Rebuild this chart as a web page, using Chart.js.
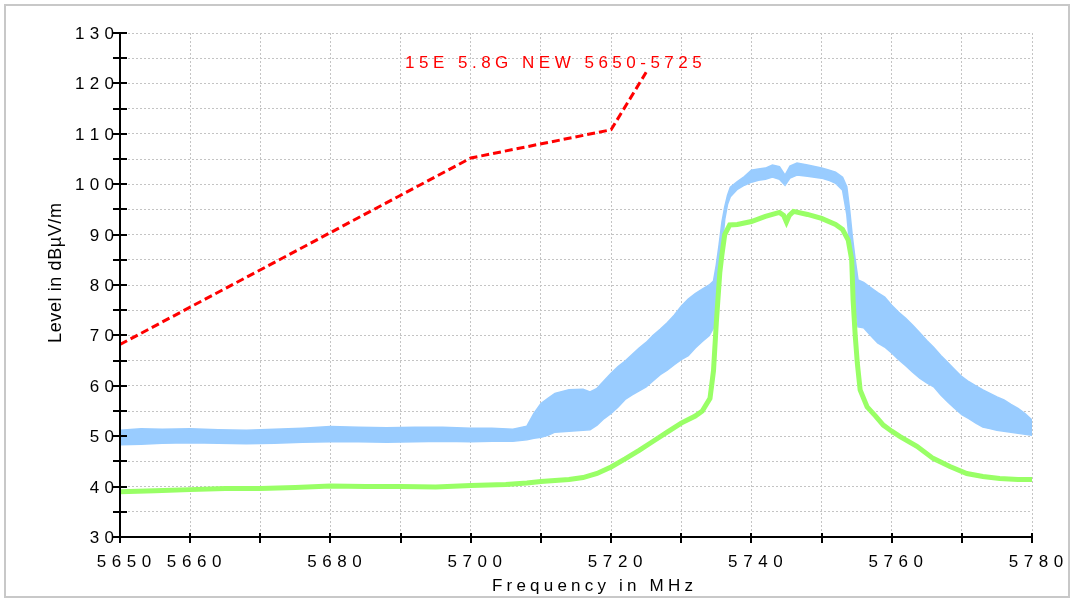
<!DOCTYPE html>
<html>
<head>
<meta charset="utf-8">
<script src="https://cdn.jsdelivr.net/npm/chart.js@4.4.0/dist/chart.umd.min.js"></script>
<style>
  body { margin: 0; background: #fff; }
  #wrap { width: 1074px; height: 599px; position: relative; }
</style>
</head>
<body>
<div id="wrap"><canvas id="emc" width="1074" height="599"></canvas></div>
<script>
// Frequenzraster (MHz) und Pegel (dBµV/m)
var blueFreq = [5650, 5653, 5656, 5660, 5664, 5668, 5672, 5676, 5680, 5684, 5688, 5692, 5696, 5700, 5703, 5706,
  5708, 5709, 5710, 5711, 5712, 5714, 5716, 5717, 5718, 5719, 5720, 5721, 5722, 5723, 5724, 5725, 5726, 5727,
  5728, 5729, 5730, 5731, 5732, 5733, 5734, 5734.6, 5735, 5735.4, 5735.8, 5736.2, 5736.6, 5737, 5738, 5739,
  5740, 5741, 5742, 5743, 5744, 5744.8, 5745.5, 5746.5, 5748, 5750, 5751, 5752, 5753, 5753.6, 5754, 5754.4,
  5754.8, 5755.2, 5756, 5757, 5758, 5759, 5760, 5761, 5762, 5763, 5764, 5765, 5766, 5767, 5768, 5769, 5770,
  5771, 5772, 5773, 5774, 5775, 5776, 5777, 5778, 5779, 5780];
var blueHigh = [51.2, 51.5, 51.4, 51.5, 51.3, 51.2, 51.4, 51.6, 51.9, 51.8, 51.7, 51.8, 51.8, 51.6, 51.6, 51.4,
  52.0, 54.5, 56.5, 57.5, 58.5, 59.2, 59.3, 58.8, 59.5, 61.0, 62.5, 63.8, 64.9, 66.2, 67.5, 68.6, 70.0, 71.2,
  72.5, 74.0, 75.8, 77.2, 78.3, 79.2, 80.0, 80.8, 84.0, 88.0, 92.5, 95.5, 97.8, 99.4, 100.5, 101.5,
  102.8, 103.0, 103.2, 103.8, 103.5, 101.8, 103.6, 104.2, 103.8, 103.2, 102.8, 102.4, 101.4, 99.5, 95.0, 89.5,
  85.0, 81.0, 80.5, 79.5, 78.5, 77.6, 76.0, 74.6, 73.4, 72.0, 70.5, 69.0, 67.6, 66.0, 64.6, 63.2, 61.8,
  60.8, 60.0, 59.2, 58.5, 57.8, 57.2, 56.3, 55.5, 54.5, 53.2];
var blueLow = [48.3, 48.4, 48.6, 48.7, 48.6, 48.5, 48.6, 48.8, 48.9, 48.9, 48.8, 48.9, 49.0, 48.9, 49.0, 49.0,
  49.3, 49.6, 49.8, 50.2, 50.8, 51.0, 51.2, 51.3, 52.2, 53.5, 54.5, 55.8, 57.3, 58.2, 59.0, 59.8, 61.0, 62.2,
  63.1, 64.2, 65.2, 66.0, 67.5, 68.8, 70.0, 71.5, 72.5, 80.0, 87.0, 93.0, 96.0, 97.5, 99.0, 99.8,
  100.4, 100.8, 101.0, 101.4, 101.0, 99.8, 101.2, 101.8, 101.6, 101.2, 100.8, 100.2, 98.8, 94.0, 88.0, 82.0,
  76.0, 71.7, 71.5, 70.0, 68.5, 67.7, 66.5, 65.2, 64.0, 62.7, 61.5, 60.6, 59.8, 58.2, 56.8, 55.5, 54.3,
  53.5, 52.6, 51.8, 51.5, 51.2, 51.0, 50.8, 50.6, 50.4, 50.2];

var greenFreq = [5650, 5655, 5660, 5665, 5670, 5675, 5680, 5685, 5690, 5695, 5700, 5705, 5708, 5710, 5712, 5714,
  5716, 5718, 5720, 5722, 5724, 5726, 5728, 5730, 5732, 5733, 5734.1, 5734.6, 5735, 5735.5, 5735.8, 5736.2,
  5736.9, 5738, 5740, 5742, 5744, 5744.6, 5745, 5745.4, 5746, 5748, 5750, 5752, 5753, 5753.8, 5754.3, 5754.5,
  5754.8, 5755.1, 5755.5, 5756.5, 5757.7, 5758.8, 5760, 5761.2, 5763.6, 5765.9, 5768.3, 5770.7, 5773, 5775.4,
  5778, 5780];
var greenLevel = [39.0, 39.2, 39.4, 39.6, 39.6, 39.8, 40.1, 40.0, 40.0, 39.9, 40.2, 40.4, 40.7, 41.0, 41.2, 41.4,
  41.8, 42.6, 43.9, 45.5, 47.2, 49.0, 50.8, 52.6, 54.0, 55.0, 57.5, 63.0, 72.5, 82.5, 86.0, 90.0,
  91.9, 92.0, 92.6, 93.6, 94.4, 93.8, 92.5, 93.8, 94.6, 94.0, 93.2, 92.0, 91.0, 88.9, 85.0, 77.0,
  70.0, 64.5, 59.2, 55.8, 54.0, 52.2, 51.0, 49.9, 48.0, 45.6, 44.0, 42.6, 42.0, 41.6,
  41.4, 41.4];

// Grenzwertlinie
var limitFreq = [5650, 5700, 5720, 5725];
var limitLevel = [68.2, 105.2, 110.8, 122.2];
var limitName = "15E 5.8G NEW 5650-5725";

var yLabels = [30, 40, 50, 60, 70, 80, 90, 100, 110, 120, 130];
var xLabels = [5650, 5660, 5680, 5700, 5720, 5740, 5760, 5780];

var FONT = "'Liberation Sans', Arial, sans-serif";

function pts(xs, ys) {
  return xs.map(function (f, i) { return { x: f, y: ys[i] }; });
}

// Text mit Buchstabenabstand zeichnen
function spaced(ctx, text, x, y, gap, align) {
  var chars = Array.from(text);
  var w = 0;
  chars.forEach(function (c) { w += ctx.measureText(c).width; });
  w += gap * (chars.length - 1);
  var pos = align === "right" ? x - w : (align === "center" ? x - w / 2 : x);
  chars.forEach(function (c) {
    ctx.fillText(c, pos, y);
    pos += ctx.measureText(c).width + gap;
  });
}

var axesPlugin = {
  id: "axesPlugin",
  beforeDraw: function (chart) {
    var ctx = chart.ctx;
    ctx.save();
    ctx.fillStyle = "#fff";
    ctx.fillRect(0, 0, chart.width, chart.height);
    ctx.strokeStyle = "#c8c8c8";
    ctx.lineWidth = 2;
    ctx.strokeRect(5, 5, 1064, 592);
    ctx.restore();
  },
  afterDraw: function (chart) {
    var ctx = chart.ctx;
    var a = chart.chartArea;
    var xs = chart.scales.x, ys = chart.scales.y;
    ctx.save();
    ctx.strokeStyle = "#000";
    ctx.lineWidth = 2;
    ctx.beginPath();
    ctx.moveTo(a.left, a.top);
    ctx.lineTo(a.left, a.bottom);
    ctx.lineTo(a.right, a.bottom);
    ctx.stroke();

    // Teilstriche
    ys.ticks.forEach(function (t) {
      var p = Math.round(ys.getPixelForValue(t.value));
      ctx.beginPath();
      ctx.moveTo(a.left - 7, p);
      ctx.lineTo(a.left + 7, p);
      ctx.stroke();
    });
    xs.ticks.forEach(function (t) {
      var p = Math.round(xs.getPixelForValue(t.value));
      ctx.beginPath();
      ctx.moveTo(p, a.bottom - 4);
      ctx.lineTo(p, a.bottom + 6);
      ctx.stroke();
    });

    // Beschriftungen
    ctx.fillStyle = "#000";
    ctx.font = "17px " + FONT;
    ctx.textBaseline = "alphabetic";
    yLabels.forEach(function (v) {
      spaced(ctx, String(v), a.left - 6, ys.getPixelForValue(v) + 6, 5.3, "right");
    });
    xLabels.forEach(function (v) {
      spaced(ctx, String(v), xs.getPixelForValue(v) + 4, a.bottom + 30, 5.6, "center");
    });
    spaced(ctx, "Frequency in MHz", 492, 591, 4.2, "left");

    ctx.save();
    ctx.translate(61, 273);
    ctx.rotate(-Math.PI / 2);
    ctx.font = "18px " + FONT;
    ctx.textAlign = "left";
    spaced(ctx, "Level in dBµV/m", 0, 0, 0.6, "center");
    ctx.restore();

    ctx.fillStyle = "#ff0000";
    ctx.font = "17px " + FONT;
    spaced(ctx, limitName, 405, 68, 4.5, "left");
    ctx.restore();
  }
};

document.addEventListener("DOMContentLoaded", function () {
  var ctx = document.getElementById("emc").getContext("2d");

  var emcChart = new Chart(ctx, {
    type: "line",
    data: {
      datasets: [{
        label: "Peak max",
        data: pts(blueFreq, blueHigh),
        borderColor: "#99ccff",
        backgroundColor: "#99ccff",
        borderWidth: 1.5,
        fill: "+1",
        order: 3
      }, {
        label: "Peak min",
        data: pts(blueFreq, blueLow),
        borderColor: "#99ccff",
        borderWidth: 1.5,
        fill: false,
        order: 2
      }, {
        label: "Average",
        data: pts(greenFreq, greenLevel),
        borderColor: "#99ff66",
        borderWidth: 5,
        fill: false,
        order: 1
      }, {
        label: limitName,
        data: pts(limitFreq, limitLevel),
        borderColor: "#ff0000",
        borderWidth: 3,
        borderDash: [8, 4],
        fill: false,
        order: 0
      }]
    },
    options: {
      responsive: false,
      animation: false,
      devicePixelRatio: 1,
      layout: { padding: { left: 0, right: 42, top: 33, bottom: 0 } },
      elements: { point: { radius: 0 }, line: { tension: 0 } },
      plugins: { legend: { display: false }, tooltip: { enabled: false } },
      scales: {
        x: {
          type: "linear",
          min: 5650,
          max: 5780,
          ticks: { display: false, stepSize: 10 },
          grid: { color: "#c4c4c4", lineWidth: 1, drawTicks: false },
          border: { display: false, dash: [2, 2] },
          afterFit: function (s) { s.height = 62; }
        },
        y: {
          min: 30,
          max: 130,
          ticks: { display: false, stepSize: 5 },
          grid: { color: "#c4c4c4", lineWidth: 1, drawTicks: false },
          border: { display: false, dash: [2, 2] },
          afterFit: function (s) { s.width = 120; }
        }
      }
    },
    plugins: [axesPlugin]
  });
});
</script>
</body>
</html>
